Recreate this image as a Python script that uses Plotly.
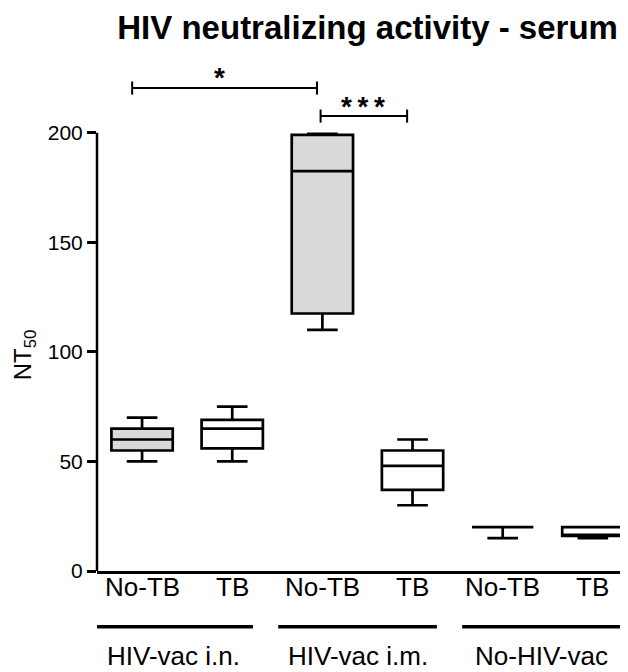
import plotly.graph_objects as go

# ---- data ----
categories = ["No-TB", "TB", "No-TB", "TB", "No-TB", "TB"]
groups = ["HIV-vac i.n.", "HIV-vac i.m.", "No-HIV-vac"]
lower = [50, 50, 110, 30, 15, 15]
q1 = [55, 56, 117.5, 37, 20, 16]
median = [60, 65, 182.5, 48, 20, 16]
q3 = [65, 69, 199, 55, 20, 20]
upper = [70, 75, 199.5, 60, 20, 20]
filled = [True, False, True, False, False, False]
y_ticks = [0, 50, 100, 150, 200]

FONT = "Liberation Sans, Arial, sans-serif"
GRAY = "#d9d9d9"

fig = go.Figure()
for i in range(len(categories)):
    fig.add_trace(go.Box(
        x=[i], q1=[q1[i]], median=[median[i]], q3=[q3[i]],
        lowerfence=[lower[i]], upperfence=[upper[i]],
        width=0.68, whiskerwidth=0.5,
        fillcolor=GRAY if filled[i] else "white",
        line=dict(color="black", width=2.7),
        boxpoints=False, showlegend=False, hoverinfo="skip",
    ))

shapes = []
# y axis line (only 0-200)
shapes.append(dict(type="line", xref="paper", yref="y", x0=0, x1=0, y0=0, y1=200,
                   line=dict(color="black", width=2.5)))
# significance brackets
brackets = [(-0.11, 1.94, 220.4), (1.98, 2.94, 207.6)]
for x0, x1, yb in brackets:
    shapes.append(dict(type="line", xref="x", yref="y", x0=x0, x1=x1, y0=yb, y1=yb,
                       line=dict(color="black", width=2)))
    for xx in (x0, x1):
        shapes.append(dict(type="line", xref="x", yref="y", x0=xx, x1=xx, y0=yb - 3, y1=yb + 3,
                           line=dict(color="black", width=2)))
# group underlines
group_lines = [(-0.53, 1.23), (1.51, 3.27), (3.55, 5.31)]
for x0, x1 in group_lines:
    shapes.append(dict(type="line", xref="x", yref="paper", x0=x0, x1=x1, y0=-0.1105, y1=-0.1105,
                       line=dict(color="black", width=3.5)))

annotations = []
for i, c in enumerate(categories):
    annotations.append(dict(text=c, xref="x", yref="paper", x=i, y=-0.0317,
                            showarrow=False, xanchor="center", yanchor="middle",
                            font=dict(family=FONT, size=26, color="black")))
for (x0, x1), g in zip(group_lines, groups):
    annotations.append(dict(text=g, xref="x", yref="paper", x=(x0 + x1) / 2, y=-0.1687,
                            showarrow=False, xanchor="center", yanchor="middle",
                            font=dict(family=FONT, size=26, color="black")))
annotations.append(dict(text="*", xref="x", yref="y", x=0.86, y=225, showarrow=False,
                        xanchor="center", yanchor="middle",
                        font=dict(family=FONT, size=28, color="black", weight="bold")))
annotations.append(dict(text="*\u2009*\u2009*", xref="x", yref="y", x=2.45, y=212, showarrow=False,
                        xanchor="center", yanchor="middle",
                        font=dict(family=FONT, size=28, color="black", weight="bold")))
annotations.append(dict(text="NT<sub>50</sub>", xref="paper", yref="paper", x=-0.1375, y=0.43,
                        showarrow=False, textangle=-90, xanchor="center", yanchor="middle",
                        font=dict(family=FONT, size=24, color="black")))

fig.update_layout(
    width=620, height=664,
    margin=dict(l=89, r=0, t=59, b=101, pad=0),
    paper_bgcolor="white", plot_bgcolor="white",
    title=dict(text="HIV neutralizing activity - serum", x=0.580, xanchor="center",
               y=0.9714, yanchor="middle",
               font=dict(family=FONT, size=33, color="black", weight="bold")),
    xaxis=dict(range=[-0.5, 5.39], tickvals=list(range(len(categories))), showticklabels=False,
               showline=True, linecolor="black", linewidth=2.5, ticks="", showgrid=False,
               zeroline=False),
    yaxis=dict(range=[0, 230], tickvals=y_ticks, ticktext=[str(v) for v in y_ticks],
               showline=False, ticks="outside", ticklen=9, tickwidth=2.5, tickcolor="black",
               showgrid=False, zeroline=False,
               tickfont=dict(family=FONT, size=21, color="black")),
    shapes=shapes, annotations=annotations,
)

fig.write_html("out.html")
